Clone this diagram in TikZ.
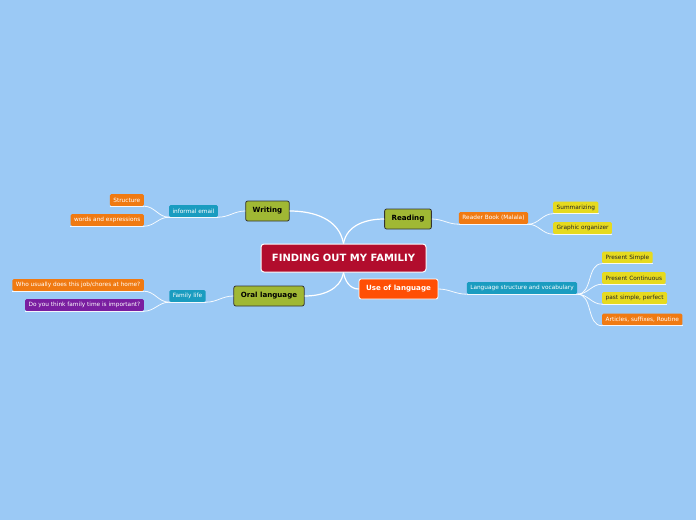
\documentclass[tikz,border=0pt]{standalone}
\usepackage{fontspec}
\setmainfont{DejaVu Sans}
\usepackage{xcolor}
\definecolor{skyback}{HTML}{9BC9F5}
\definecolor{rootred}{HTML}{B20D2D}
\definecolor{topicgreen}{HTML}{A0B834}
\definecolor{topicorange}{HTML}{FF4F05}
\definecolor{leaforange}{HTML}{F07A12}
\definecolor{leafteal}{HTML}{1A9CC0}
\definecolor{leafyellow}{HTML}{E6DA1F}
\definecolor{leafpurple}{HTML}{7A1EA0}

\begin{document}
\begin{tikzpicture}[x=1pt,y=-1pt]
        \tikzset{root/.style={draw=white,line width=1pt,fill=rootred,text=white,rounded corners=3pt,
                minimum width=165pt,minimum height=28pt,font=\fontsize{10}{11}\selectfont\bfseries},
            topic/.style={draw=black!80,line width=0.8pt,fill=topicgreen,text=black,rounded corners=2pt,
                minimum height=20pt,inner xsep=7pt,inner ysep=0pt,font=\fontsize{7.1}{8}\selectfont\bfseries},
            leaf/.style={fill=#1,text=white,rounded corners=1.5pt,minimum height=12pt,inner xsep=3.5pt,
                inner ysep=0pt,font=\fontsize{5.8}{6.5}\selectfont,
                append after command={(\tikzlastnode.south west) edge[branch] (\tikzlastnode.south east)}},
            yleaf/.style={leaf=leafyellow,text=black!85},
            branch/.style={draw=white,line width=0.8pt,opacity=0.9},
            edge from root/.style={draw=white,line width=1.2pt}}
        \fill[skyback] (0,0) rectangle (696,520);
        \useasboundingbox (0,0) rectangle (696,520);
        % main topics
        \node[root] (family) at (343.5,258) {FINDING OUT MY FAMILIY};
        \node[topic] (writing) at (267.5,211) {Writing};
        \node[topic] (reading) at (408,219) {Reading};
        \node[topic] (oral) at (269,296) {Oral language};
        \node[topic,fill=topicorange,draw=white,text=white] (use) at (398.5,289) {Use of language};
        % writing
        \node[leaf=leafteal] (email) at (193.5,211) {informal email};
        \node[leaf=leaforange,anchor=east] (structure) at (144,200) {Structure};
        \node[leaf=leaforange,anchor=east] (words) at (144,220) {words and expressions};
        % oral language
        \node[leaf=leafteal] (life) at (187.5,296) {Family life};
        \node[leaf=leaforange,anchor=east] (chores) at (144,285) {Who usually does this job/chores at home?};
        \node[leaf=leafpurple,anchor=east] (time) at (144,305) {Do you think family time is important?};
        % reading
        \node[leaf=leaforange] (book) at (493.5,218) {Reader Book (Malala)};
        \node[yleaf,anchor=west] (summ) at (553,207.5) {Summarizing};
        \node[yleaf,anchor=west] (organizer) at (553,228) {Graphic organizer};
        % use of language
        \node[leaf=leafteal] (vocab) at (522,288) {Language structure and vocabulary};
        \node[yleaf,anchor=west] (simple) at (602,257.5) {Present Simple};
        \node[yleaf,anchor=west] (cont) at (602,278) {Present Continuous};
        \node[yleaf,anchor=west] (past) at (602,298) {past simple, perfect};
        \node[leaf=leaforange,anchor=west] (articles) at (602,319.5) {Articles, suffixes, Routine};

        \draw[edge from root] (family.north) to[out=100,in=0] (writing.east);
        \draw[edge from root] (family.north) to[out=80,in=180] (reading.west);
        \draw[edge from root] (family.south) to[out=-100,in=0] (oral.east);
        \draw[edge from root] (family.south) to[out=-80,in=180] (use.west);

        \draw[branch] (writing.west) to[out=180,in=0] (email.south east);
        \draw[branch] (email.south west) to[out=180,in=0] (structure.south east);
        \draw[branch] (email.south west) to[out=180,in=0] (words.south east);
        \draw[branch] (oral.west) to[out=180,in=0] (life.south east);
        \draw[branch] (life.south west) to[out=180,in=0] (chores.south east);
        \draw[branch] (life.south west) to[out=180,in=0] (time.south east);
        \draw[branch] (reading.east) to[out=0,in=180] (book.south west);
        \draw[branch] (book.south east) to[out=0,in=180] (summ.south west);
        \draw[branch] (book.south east) to[out=0,in=180] (organizer.south west);
        \draw[branch] (use.east) to[out=0,in=180] (vocab.south west);
        \draw[branch] (vocab.south east) to[out=0,in=180] (simple.south west);
        \draw[branch] (vocab.south east) to[out=0,in=180] (cont.south west);
        \draw[branch] (vocab.south east) to[out=0,in=180] (past.south west);
        \draw[branch] (vocab.south east) to[out=0,in=180] (articles.south west);
\end{tikzpicture}
\end{document}
